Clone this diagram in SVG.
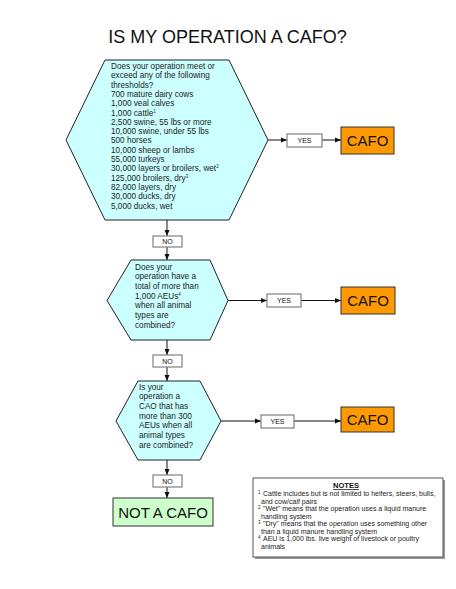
<svg xmlns="http://www.w3.org/2000/svg" width="456" height="589" viewBox="0 0 456 589">
<style>
text{font-family:"Liberation Sans",Arial,sans-serif;fill:#111}
.hex{fill:#CCFFFF;stroke:#222;stroke-width:1}
.cafo{fill:#FF9900;stroke:#333;stroke-width:1}
.lbl{fill:#fff;stroke:#808080;stroke-width:1.2}
.q{font-size:8.2px;fill:#222}
.small{font-size:7px}
.big{font-size:15px}
.conn{stroke:#111;stroke-width:1;fill:none;marker-end:url(#ah)}
.note{font-size:7px;fill:#222}
.sup{font-size:4.5px;fill:#222}
</style>
<defs>
<marker id="ah" markerUnits="userSpaceOnUse" markerWidth="6" markerHeight="6" refX="6" refY="3" orient="auto">
<path d="M0,0.5 L6,3 L0,5.5 Z" fill="#111"/>
</marker>
</defs>
<rect width="456" height="589" fill="#fff"/>
<text id="title" x="227.5" y="43" font-size="18" text-anchor="middle">IS MY OPERATION A CAFO?</text>

<g id="connectors">
<line class="conn" x1="268" y1="140" x2="287" y2="140"/>
<line class="conn" x1="322" y1="140" x2="341" y2="140"/>
<line class="conn" x1="167" y1="220" x2="167" y2="236"/>
<line class="conn" x1="167" y1="247" x2="167" y2="260"/>
<line class="conn" x1="228" y1="300.5" x2="267" y2="300.5"/>
<line class="conn" x1="301" y1="300.5" x2="341" y2="300.5"/>
<line class="conn" x1="167" y1="340" x2="167" y2="355"/>
<line class="conn" x1="167" y1="367" x2="167" y2="381"/>
<line class="conn" x1="221" y1="421" x2="261" y2="421"/>
<line class="conn" x1="294" y1="421" x2="341" y2="421"/>
<line class="conn" x1="167" y1="460" x2="167" y2="475"/>
<line class="conn" x1="167" y1="487" x2="167" y2="498"/>
</g>

<g id="q1">
<polygon class="hex" points="105,60 229,60 268,140 229,220 105,220 66,140"/>
<text class="q" x="111" y="69">
<tspan x="111" dy="0">Does your operation meet or</tspan>
<tspan x="111" dy="9.3">exceed any of the following</tspan>
<tspan x="111" dy="9.3">thresholds?</tspan>
<tspan x="111" dy="9.3">700 mature dairy cows</tspan>
<tspan x="111" dy="9.3">1,000 veal calves</tspan>
<tspan x="111" dy="9.3">1,000 cattle<tspan font-size="4.5" dy="-3">1</tspan></tspan>
<tspan x="111" dy="12.3">2,500 swine, 55 lbs or more</tspan>
<tspan x="111" dy="9.3">10,000 swine, under 55 lbs</tspan>
<tspan x="111" dy="9.3">500 horses</tspan>
<tspan x="111" dy="9.3">10,000 sheep or lambs</tspan>
<tspan x="111" dy="9.3">55,000 turkeys</tspan>
<tspan x="111" dy="9.3">30,000 layers or broilers, wet<tspan font-size="4.5" dy="-3">2</tspan></tspan>
<tspan x="111" dy="12.3">125,000 broilers, dry<tspan font-size="4.5" dy="-3">3</tspan></tspan>
<tspan x="111" dy="12.3">82,000 layers, dry</tspan>
<tspan x="111" dy="9.3">30,000 ducks, dry</tspan>
<tspan x="111" dy="9.3">5,000 ducks, wet</tspan>
</text>
</g>

<g id="yes1"><rect class="lbl" x="287" y="134" width="35" height="13"/><text class="small" x="304.5" y="143" text-anchor="middle">YES</text></g>
<g id="cafo1"><rect class="cafo" x="341" y="127" width="53" height="27"/><text class="big" x="367.5" y="145.5" text-anchor="middle">CAFO</text></g>
<g id="no1"><rect class="lbl" x="153" y="236" width="29" height="11"/><text class="small" x="167.5" y="244" text-anchor="middle">NO</text></g>

<g id="q2">
<polygon class="hex" points="131,260 210,260 228,300.5 210,340 131,340 107,300.5"/>
<text class="q" x="135" y="269.5">
<tspan x="135" dy="0">Does your</tspan>
<tspan x="135" dy="9.7">operation have a</tspan>
<tspan x="135" dy="9.7">total of more than</tspan>
<tspan x="135" dy="9.7">1,000 AEUs<tspan font-size="4.5" dy="-3">4</tspan></tspan>
<tspan x="135" dy="12.7">when all animal</tspan>
<tspan x="135" dy="9.7">types are</tspan>
<tspan x="135" dy="9.7">combined?</tspan>
</text>
</g>

<g id="yes2"><rect class="lbl" x="267" y="294" width="34" height="13"/><text class="small" x="284" y="303" text-anchor="middle">YES</text></g>
<g id="cafo2"><rect class="cafo" x="341" y="287" width="54" height="27"/><text class="big" x="368" y="305.5" text-anchor="middle">CAFO</text></g>
<g id="no2"><rect class="lbl" x="153" y="355" width="29" height="12"/><text class="small" x="167.5" y="363.5" text-anchor="middle">NO</text></g>

<g id="q3">
<polygon class="hex" points="138,381 200,381 221,421 200,460 138,460 116,421"/>
<text class="q" x="139" y="389.5">
<tspan x="139" dy="0">Is your</tspan>
<tspan x="139" dy="9.7">operation a</tspan>
<tspan x="139" dy="9.7">CAO that has</tspan>
<tspan x="139" dy="9.7">more than 300</tspan>
<tspan x="139" dy="9.7">AEUs when all</tspan>
<tspan x="139" dy="9.7">animal types</tspan>
<tspan x="139" dy="9.7">are combined?</tspan>
</text>
</g>

<g id="yes3"><rect class="lbl" x="261" y="415" width="33" height="13"/><text class="small" x="277.5" y="424" text-anchor="middle">YES</text></g>
<g id="cafo3"><rect class="cafo" x="341" y="407" width="53" height="25"/><text class="big" x="367.5" y="424.5" text-anchor="middle">CAFO</text></g>
<g id="no3"><rect class="lbl" x="153" y="475" width="29" height="12"/><text class="small" x="167.5" y="483.5" text-anchor="middle">NO</text></g>

<g id="notcafo"><rect x="113" y="498" width="100" height="28" fill="#CCFFCC" stroke="#333" stroke-width="1"/><text x="163" y="517.5" font-size="15" text-anchor="middle">NOT A CAFO</text></g>

<g id="notes">
<rect x="255" y="480" width="190" height="79" fill="#999"/>
<rect x="253" y="478" width="190" height="79" fill="#fff" stroke="#555" stroke-width="1"/>
<text x="346" y="488" font-size="7.5" font-weight="bold" text-anchor="middle" text-decoration="underline">NOTES</text>
<text class="sup" x="258" y="494">1</text>
<text class="note" x="263" y="496">Cattle includes but is not limited to heifers, steers, bulls,</text>
<text class="note" x="261" y="503.5">and cow/calf pairs</text>
<text class="sup" x="258" y="509">2</text>
<text class="note" x="263" y="511">"Wet" means that the operation uses a liquid manure</text>
<text class="note" x="261" y="518.5">handling system</text>
<text class="sup" x="258" y="524">3</text>
<text class="note" x="263" y="526">"Dry" means that the operation uses something other</text>
<text class="note" x="261" y="533.5">than a liquid manure handling system</text>
<text class="sup" x="258" y="539">4</text>
<text class="note" x="263" y="541">AEU is 1,000 lbs. live weight of livestock or poultry</text>
<text class="note" x="261" y="548.5">animals</text>
</g>
</svg>
